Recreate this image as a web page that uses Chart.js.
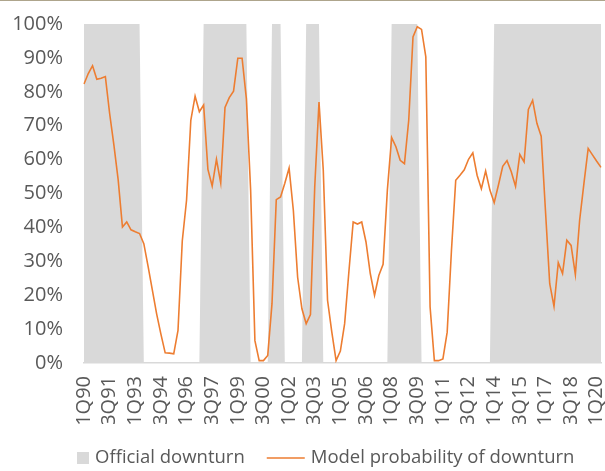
<!DOCTYPE html>
<html>
<head>
<meta charset="utf-8">
<title>Official downturn vs model probability of downturn</title>
<script src="https://cdn.jsdelivr.net/npm/chart.js@4.4.1/dist/chart.umd.min.js"></script>
<style>
  html, body { margin: 0; padding: 0; background: #ffffff; }
  #wrap { width: 605px; height: 471px; position: relative; }
  #rule { position: absolute; left: 0; top: 0; width: 605px; height: 1px; background: #aea58c; }
</style>
</head>
<body>
<div id="wrap"><canvas id="chart" width="605" height="471"></canvas><div id="rule"></div></div>
<script>
// Quarterly categories, 1Q90 .. 2Q20
const firstYear = 1990;
const quarterCount = 122;
const quarters = [];
for (let i = 0; i < quarterCount; i++) {
  const yy = String((firstYear + Math.floor(i / 4)) % 100).padStart(2, '0');
  quarters.push((i % 4 + 1) + 'Q' + yy);
}

// Official downturn flag per quarter (1 = downturn), one row per year
const officialDownturn = [
  1,1,1,1, 1,1,1,1, 1,1,1,1, 1,1,0,0,   // 1990-1993
  0,0,0,0, 0,0,0,0, 0,0,0,0, 1,1,1,1,   // 1994-1997
  1,1,1,1, 1,1,1,0, 0,0,0,0, 1,1,1,0,   // 1998-2001
  0,0,0,0, 1,1,1,1, 0,0,0,0, 0,0,0,0,   // 2002-2005
  0,0,0,0, 0,0,0,0, 1,1,1,1, 1,1,1,0,   // 2006-2009
  0,0,0,0, 0,0,0,0, 0,0,0,0, 0,0,0,0,   // 2010-2013
  1,1,1,1, 1,1,1,1, 1,1,1,1, 1,1,1,1,   // 2014-2017
  1,1,1,1, 1,1,1,1, 1,1                 // 2018-2Q20
];

// Model probability of downturn, % per quarter
const modelProbability = [
  82.3, 85.4, 87.7, 83.7,  84.0, 84.5, 73.6, 64.3,  54.0, 40.1, 41.6, 39.3,  38.7, 38.2, 35.2, 28.5,  // 1990-1993
  21.5, 14.5,  8.5,  3.0,   2.9,  2.7,  9.6, 36.0,  48.0, 71.6, 78.7, 74.1,  76.1, 57.1, 52.2, 60.1,  // 1994-1997
  53.1, 75.4, 78.3, 80.2,  89.9, 89.9, 78.0, 51.0,   6.6,  0.7,  0.7,  2.2,  17.5, 48.2, 49.0, 53.0,  // 1998-2001
  57.5, 45.0, 25.3, 16.0,  11.6, 14.3, 51.9, 77.0,  56.9, 18.5,  9.1,  0.7,   3.5, 11.6, 27.0, 41.6,  // 2002-2005
  41.0, 41.6, 35.7, 26.4,  20.0, 25.8, 29.1, 51.0,  66.5, 63.8, 59.8, 58.8,  71.6, 96.2, 99.2, 98.4,  // 2006-2009
  90.3, 16.5,  0.7,  0.7,   1.2,  9.1, 33.2, 53.9,  55.4, 57.0, 60.1, 62.0,  55.4, 51.4, 56.6, 51.0,  // 2010-2013
  47.3, 52.5, 58.0, 59.7,  56.4, 52.1, 61.5, 59.3,  74.8, 77.5, 70.7, 66.9,  45.0, 23.4, 16.7, 29.6,  // 2014-2017
  26.4, 36.2, 34.7, 26.1,  42.1, 52.9, 63.3, 61.4,  59.5, 57.7                                        // 2018-2Q20
];

// Every sixth quarter carries an axis label
const labelEvery = 6;
const yTicks = [0, 10, 20, 30, 40, 50, 60, 70, 80, 90, 100];

const textColor = '#595959';
const fontFamily = '"Open Sans", "Noto Sans", sans-serif';

// Legend drawn as a single row below the axis labels
const legendRow = {
  id: 'legendRow',
  afterDraw(chart, args, opts) {
    const ctx = chart.ctx;
    const ds = chart.data.datasets;
    ctx.save();
    ctx.font = opts.fontSize + 'px ' + fontFamily;
    ctx.textBaseline = 'middle';
    ctx.textAlign = 'left';
    let x = opts.x;
    const y = opts.y;
    // area key
    ctx.fillStyle = ds[0].backgroundColor;
    ctx.fillRect(x, y - opts.box / 2, opts.box, opts.box);
    x += opts.box + opts.gap;
    ctx.fillStyle = textColor;
    ctx.fillText(ds[0].label, x, y);
    x += ctx.measureText(ds[0].label).width + opts.itemGap;
    // line key
    ctx.strokeStyle = ds[1].borderColor;
    ctx.lineWidth = ds[1].borderWidth;
    ctx.beginPath();
    ctx.moveTo(x, y);
    ctx.lineTo(x + opts.lineLen, y);
    ctx.stroke();
    x += opts.lineLen + opts.gap;
    ctx.fillStyle = textColor;
    ctx.fillText(ds[1].label, x, y);
    ctx.restore();
  }
};

new Chart(document.getElementById('chart'), {
  type: 'line',
  data: {
    labels: quarters,
    datasets: [
      {
        label: 'Official downturn',
        data: officialDownturn,
        yAxisID: 'yShade',
        backgroundColor: '#d9d9d9',
        borderWidth: 0,
        pointRadius: 0,
        fill: 'origin',
        tension: 0,
        order: 2
      },
      {
        label: 'Model probability of downturn',
        data: modelProbability,
        yAxisID: 'y',
        borderColor: '#ed7d31',
        borderWidth: 1.6,
        pointRadius: 0,
        fill: false,
        tension: 0,
        order: 1
      }
    ]
  },
  options: {
    responsive: false,
    animation: false,
    devicePixelRatio: 1,
    layout: { padding: { left: 12, right: 4, top: 24, bottom: 47 } },
    plugins: {
      legend: { display: false },
      tooltip: { enabled: false },
      legendRow: { x: 77, y: 458, box: 12, gap: 6, itemGap: 22, lineLen: 38, fontSize: 18.5 }
    },
    scales: {
      x: {
        type: 'category',
        offset: false,
        grid: { display: false, drawTicks: false },
        border: { display: true, color: '#d9d9d9', width: 1.5 },
        ticks: {
          autoSkip: false,
          minRotation: 90,
          maxRotation: 90,
          padding: 13,
          color: textColor,
          font: { family: fontFamily, size: 20 },
          callback(value, index) {
            return index % labelEvery === 0 ? quarters[index] : '';
          }
        },
        afterFit(scale) {
          scale.height = 61;
          scale.paddingLeft = 0;
          scale.paddingRight = 0;
        }
      },
      y: {
        min: 0,
        max: 100,
        afterBuildTicks(scale) { scale.ticks = yTicks.map(v => ({ value: v })); },
        grid: { display: false, drawTicks: false },
        border: { display: false },
        ticks: {
          padding: 21,
          color: textColor,
          font: { family: fontFamily, size: 20 },
          callback(value) { return value + '%'; }
        },
        afterFit(scale) {
          scale.width = 72;
          scale.paddingTop = 0;
          scale.paddingBottom = 0;
        }
      },
      yShade: {
        min: 0,
        max: 1,
        display: false,
        afterFit(scale) {
          scale.width = 0;
          scale.paddingTop = 0;
          scale.paddingBottom = 0;
        }
      }
    }
  },
  plugins: [legendRow]
});
</script>
</body>
</html>
